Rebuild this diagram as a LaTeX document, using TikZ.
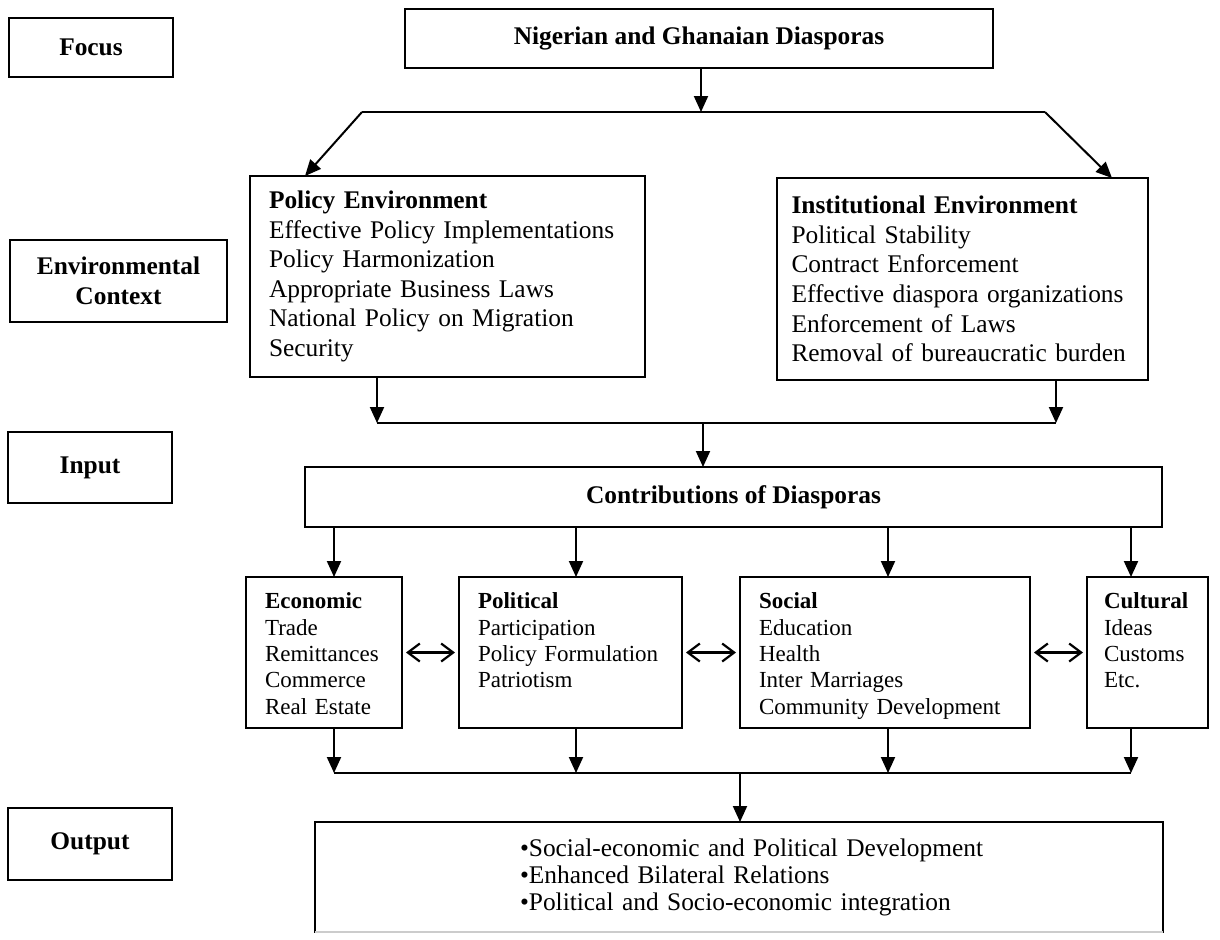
\documentclass[tikz,border=0pt]{standalone}
\usepackage{fontspec}
\setmainfont{Liberation Serif}
\usetikzlibrary{arrows.meta}

\begin{document}
\begin{tikzpicture}[x=0.5pt,y=-0.5pt,line width=1pt]
    \tikzstyle{every node}=[draw, outer sep=0pt, inner sep=0pt, anchor=north west, font=\fontsize{12.7}{14.8}\selectfont]
    \tikzstyle{labelbox}=[font=\fontsize{12.7}{14.8}\selectfont\bfseries, align=center]
    \tikzstyle{envbox}=[align=left, inner xsep=9.5pt]
    \tikzstyle{catbox}=[align=left, inner xsep=9.5pt, minimum height=75.5pt, font=\fontsize{11.5}{13.2}\selectfont]
    \tikzstyle{arr}=[-{Triangle[width=7pt,length=8pt]}]
    \tikzstyle{dblarr}=[{Straight Barb[length=6pt,width=9pt]}-{Straight Barb[length=6pt,width=9pt]}, line width=1.1pt, shorten >=2pt, shorten <=2pt]
    \useasboundingbox (0,0) rectangle (1220,939);
    % row labels
    \node[labelbox, minimum width=82pt, minimum height=29.5pt] (focus) at (9,18) {Focus};
    \node[labelbox, minimum width=108.5pt, minimum height=41pt] (envctx) at (10,240) {Environmental\\Context};
    \node[labelbox, minimum width=82pt, minimum height=35.5pt] (input) at (8,432) {Input};
    \node[labelbox, minimum width=82pt, minimum height=36pt] (output) at (8,808) {Output};
    % boxes
    \node[labelbox, minimum width=294pt, minimum height=29.5pt] (nga) at (405,9) {Nigerian and Ghanaian Diasporas};
    \node[envbox, text width=178.5pt, minimum height=100.5pt] (policy) at (250,176) {\textbf{Policy Environment}\\
        Effective Policy Implementations\\ Policy Harmonization\\ Appropriate Business Laws\\
        National Policy on Migration\\ Security};
    \node[envbox, text width=171pt, inner xsep=7.25pt, minimum height=101pt] (inst) at (777,178) {\textbf{Institutional Environment}\\
        Political Stability\\ Contract Enforcement\\ Effective diaspora organizations\\
        Enforcement of Laws\\ Removal of bureaucratic burden};
    \node[labelbox, minimum width=428.5pt, minimum height=30pt] (contrib) at (305,467) {Contributions of Diasporas};
    \node[catbox, text width=59pt] (econ) at (246,577) {\rule{0pt}{13pt}\textbf{Economic}\\ Trade\\ Remittances\\ Commerce\\ Real Estate\strut};
    \node[catbox, text width=92.5pt] (polit) at (459,577) {\rule{0pt}{13pt}\textbf{Political}\\ Participation\\ Policy Formulation\\ Patriotism\\ \strut};
    \node[catbox, text width=126pt] (soc) at (740,577) {\rule{0pt}{13pt}\textbf{Social}\\ Education\\ Health\\ Inter Marriages\\ Community Development\strut};
    \node[catbox, text width=43.5pt, inner xsep=8.5pt] (cult) at (1087,577) {\rule{0pt}{13pt}\textbf{Cultural}\\ Ideas\\ Customs\\ Etc.\\ \strut};
    \node[text width=424pt, minimum height=55pt, align=left, font=\fontsize{12.7}{13.5}\selectfont] (out) at (315,822)
        {\hspace*{102.5pt}•Social-economic and Political Development\\ \hspace*{102.5pt}•Enhanced Bilateral Relations\\
        \hspace*{102.5pt}•Political and Socio-economic integration};
    \draw[gray!40, line width=1.4pt] (out.south west) -- (out.south east);
    % focus to environment
    \coordinate (split) at (701,112);
    \coordinate (splitL) at (362,112);
    \coordinate (splitR) at (1045,112);
    \draw[arr] (nga.south -| split) -- (split);
    \draw (splitL) -- (splitR);
    \draw[arr] (splitL) -- ([xshift=27.5pt]policy.north west);
    \draw[arr] (splitR) -- ([xshift=-18pt]inst.north east);
    % environment to input
    \coordinate (joinL) at (377,423);
    \coordinate (joinR) at (1056,423);
    \coordinate (join) at (703,423);
    \draw[arr] (policy.south -| joinL) -- (joinL);
    \draw[arr] (inst.south -| joinR) -- (joinR);
    \draw (joinL) -- (joinR);
    \draw[arr] (join) -- (join |- contrib.north);
    % input to contributions and on to output
    \coordinate (econcol) at (334,773);
    \coordinate (politcol) at (576,773);
    \coordinate (soccol) at (888,773);
    \coordinate (cultcol) at (1131,773);
    \foreach \n in {econ, polit, soc, cult} {
        \draw[arr] (contrib.south -| \n col) -- (\n.north -| \n col);
        \draw[arr] (\n.south -| \n col) -- (\n col);
    }
    \draw (econcol) -- (cultcol);
    \coordinate (merge) at (740,773);
    \draw[arr] (merge) -- (merge |- out.north);
    \draw[dblarr] (econ.east) -- (polit.west);
    \draw[dblarr] (polit.east) -- (soc.west);
    \draw[dblarr] (soc.east) -- (cult.west);
\end{tikzpicture}
\end{document}
